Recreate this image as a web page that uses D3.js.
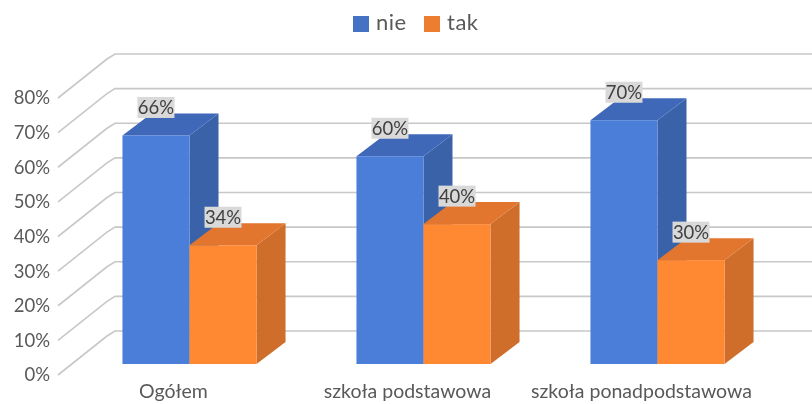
<!DOCTYPE html>
<html>
<head>
<meta charset="utf-8">
<script src="https://cdn.jsdelivr.net/npm/d3@7"></script>
<style>
  html, body { margin: 0; padding: 0; background: #fff; }
  svg { display: block; filter: blur(0.4px); }
  text { font-family: Lato, "Open Sans", sans-serif; }
</style>
</head>
<body>
<script>
// values (labels are rounded to whole percents)
var categories = ["Ogółem", "szkoła podstawowa", "szkoła ponadpodstawowa"];
var seriesNames = ["nie", "tak"];
var nie = [0.66, 0.60, 0.704];
var tak = [0.343, 0.404, 0.30];
var tickValues = [0, 0.1, 0.2, 0.3, 0.4, 0.5, 0.6, 0.7, 0.8];

var width = 812, height = 404;

var frontColor = {nie: "#4a7ed9", tak: "#ff8833"};
var topColor = {nie: "#3f69b8", tak: "#e2762e"};
var sideColor = {nie: "#3a62a9", tak: "#cf6d2a"};
var legendColor = {nie: "#4472c4", tak: "#ed7d31"};

// y is the front edge of the floor, the wall and the bars sit behind it
var y = d3.scaleLinear().domain([0, 0.8]).range([375, 98]);
var x = d3.scaleBand().domain(categories).range([72.5, 774.5]).paddingInner(0.427).paddingOuter(0.2135);
var xSeries = d3.scaleBand().domain(seriesNames).range([0, x.bandwidth()]);
var format = d3.format(".0%");

var wallX = 115, wallDy = -44, edgeX = 58; // side wall
var barDx = 29, barDy = -22, barFront = -11; // bar depth

var svg = d3.select("body").append("svg").attr("width", width).attr("height", height);

// gridlines: slanted part on the side wall then flat on the back wall
svg.append("g").selectAll("path")
  .data(tickValues)
  .enter().append("path")
  .attr("d", function(d) {
    return "M" + edgeX + "," + y(d) + "L" + (wallX - 8) + "," + (y(d) + wallDy + 5) +
      "L" + wallX + "," + (y(d) + wallDy) + "L" + width + "," + (y(d) + wallDy);
  })
  .style("fill", "none")
  .style("stroke", "#c8c8c8")
  .style("stroke-width", 1.6);

// left axis labels
var yAxis = svg.append("g")
  .attr("transform", "translate(55,0)")
  .call(d3.axisLeft(y).tickValues(tickValues).tickFormat(format).tickSize(0).tickPadding(5));
yAxis.select(".domain").remove();
yAxis.selectAll("text")
  .style("font-family", "Lato, sans-serif")
  .style("font-size", "18.5px")
  .style("fill", "#595959");

// bottom axis labels
var xAxis = svg.append("g")
  .attr("transform", "translate(-16,384)")
  .call(d3.axisBottom(x).tickSize(0).tickPadding(0));
xAxis.select(".domain").remove();
xAxis.selectAll("text")
  .style("font-family", "Lato, sans-serif")
  .style("font-size", "19.5px")
  .style("fill", "#595959");

function drawBars(name, values) {
  var g = svg.append("g").attr("class", "bars-" + name);
  var bar = g.selectAll("g")
    .data(values)
    .enter().append("g")
    .attr("transform", function(d, i) {
      return "translate(" + (x(categories[i]) + xSeries(name)) + ",0)";
    });
  var w = xSeries.bandwidth();
  var base = y(0) + barFront;

  // side face
  bar.append("path")
    .attr("d", function(d) {
      var t = y(d) + barFront;
      return "M" + w + "," + t + "L" + (w + barDx) + "," + (t + barDy) +
        "L" + (w + barDx) + "," + (base + barDy) + "L" + w + "," + base + "Z";
    })
    .style("fill", sideColor[name]);

  // top face
  bar.append("path")
    .attr("d", function(d) {
      var t = y(d) + barFront;
      return "M0," + t + "L" + barDx + "," + (t + barDy) +
        "L" + (w + barDx) + "," + (t + barDy) + "L" + w + "," + t + "Z";
    })
    .style("fill", topColor[name]);

  // front face
  bar.append("rect")
    .attr("x", 0)
    .attr("y", function(d) { return y(d) + barFront; })
    .attr("width", w)
    .attr("height", function(d) { return base - (y(d) + barFront); })
    .style("fill", frontColor[name]);
}

drawBars("nie", nie);
drawBars("tak", tak);

// data labels go over all the bars
function drawLabels(name, values) {
  var label = svg.append("g").selectAll("g")
    .data(values)
    .enter().append("g")
    .attr("transform", function(d, i) {
      var cx = x(categories[i]) + xSeries(name) + xSeries.bandwidth() / 2;
      return "translate(" + cx + "," + (y(d) + barFront - 28) + ")";
    });
  label.append("rect")
    .attr("x", -18.5)
    .attr("y", -10.5)
    .attr("width", 37)
    .attr("height", 21)
    .style("fill", "#d9d9d9");
  label.append("text")
    .attr("text-anchor", "middle")
    .attr("dy", "0.36em")
    .style("font-size", "18.5px")
    .style("fill", "#404040")
    .text(function(d) { return format(d); });
}

drawLabels("nie", nie);
drawLabels("tak", tak);

// legend
var legendX = {nie: 353, tak: 424};
var legend = svg.append("g").selectAll("g")
  .data(seriesNames)
  .enter().append("g")
  .attr("transform", function(d) { return "translate(" + legendX[d] + ",16)"; });
legend.append("rect")
  .attr("width", 16)
  .attr("height", 16)
  .style("fill", function(d) { return legendColor[d]; });
legend.append("text")
  .attr("x", 23)
  .attr("y", 14)
  .style("font-size", "22px")
  .style("letter-spacing", "0.5px")
  .style("fill", "#595959")
  .text(function(d) { return d; });
</script>
</body>
</html>
